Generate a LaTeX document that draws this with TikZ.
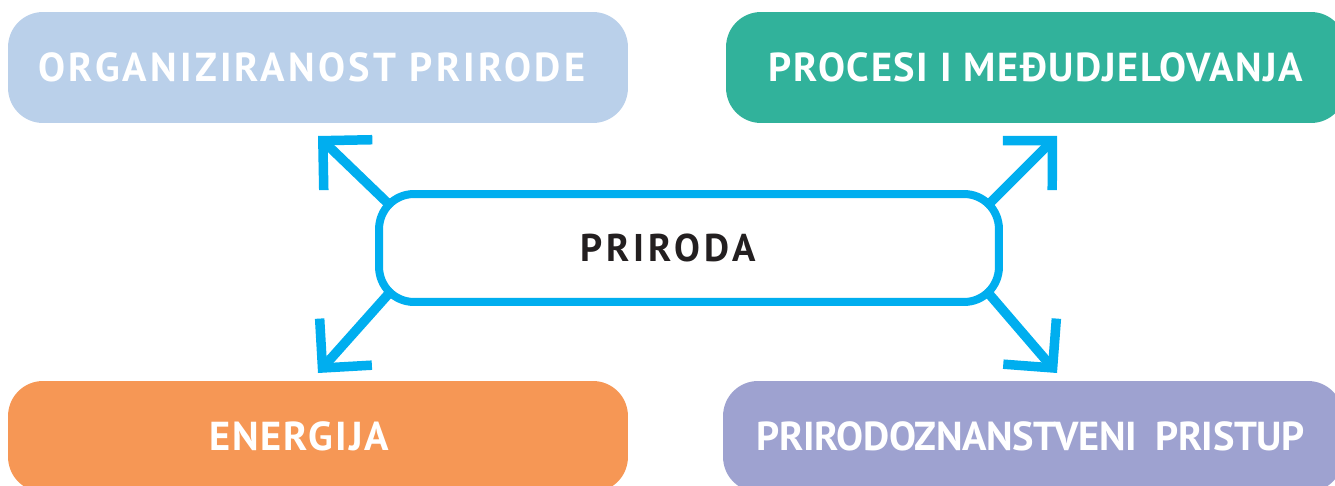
\documentclass[tikz,border=0pt]{standalone}
\usepackage{fontspec}
\setmainfont{PT Sans}
\usetikzlibrary{arrows.meta,backgrounds}
\definecolor{plava}{HTML}{BAD0EA}
\definecolor{zelena}{HTML}{31B29B}
\definecolor{narancasta}{HTML}{F69755}
\definecolor{lila}{HTML}{9EA2D0}
\definecolor{nebo}{HTML}{00AEEF}
\definecolor{tamna}{HTML}{231F20}
\begin{document}
\begin{tikzpicture}[x=0.02cm,y=-0.02cm,
    kutija/.style={rounded corners=0.7cm, minimum width=12.4cm, minimum height=2.22cm,
      text=white, font=\bfseries\fontsize{23}{27}\selectfont},
    strelica/.style={line width=0.19cm, draw=nebo,
      -{Straight Barb[length=0.7cm,width=1.4cm]}}]
    \useasboundingbox (0,0) rectangle (1335,486);
    % cetiri kutije
    \node [kutija, fill=plava] (org) at (318,67.5)
      {\addfontfeature{LetterSpace=8}ORGANIZIRANOST PRIRODE\hspace*{0.24cm}};
    \node [kutija, fill=zelena] (proc) at (1036,67.5)
      {\addfontfeature{LetterSpace=4}PROCESI I MEĐUDJELOVANJA};
    \node [kutija, fill=narancasta] (ener) at (318,436.5)
      {\addfontfeature{LetterSpace=5}ENERGIJA\hspace*{0.76cm}};
    \node [kutija, fill=lila] (prist) at (1033,436.5)
      {\addfontfeature{LetterSpace=-1}PRIRODOZNANSTVENI\hspace{0.45em}PRISTUP\hspace*{0.1cm}};
    % sredina
    \node [draw=nebo, fill=white, line width=0.16cm, rounded corners=0.7cm,
      minimum width=12.4cm, minimum height=2.16cm, text=tamna,
      font=\bfseries\fontsize{22}{26}\selectfont] (prir) at (689,248)
      {\addfontfeature{LetterSpace=10}PRIRODA\hspace*{0.84cm}};
    \coordinate (t1) at (318,136);
    \coordinate (t2) at (1057,136);
    \coordinate (t3) at (318,373);
    \coordinate (t4) at (1057,373);
    \begin{scope}[on background layer]
        \draw [strelica] ([xshift=0.5cm,yshift=-0.5cm]prir.north west) -- (t1);
        \draw [strelica] ([xshift=-0.5cm,yshift=-0.5cm]prir.north east) -- (t2);
        \draw [strelica] ([xshift=0.5cm,yshift=0.5cm]prir.south west) -- (t3);
        \draw [strelica] ([xshift=-0.5cm,yshift=0.5cm]prir.south east) -- (t4);
    \end{scope}
\end{tikzpicture}
\end{document}
